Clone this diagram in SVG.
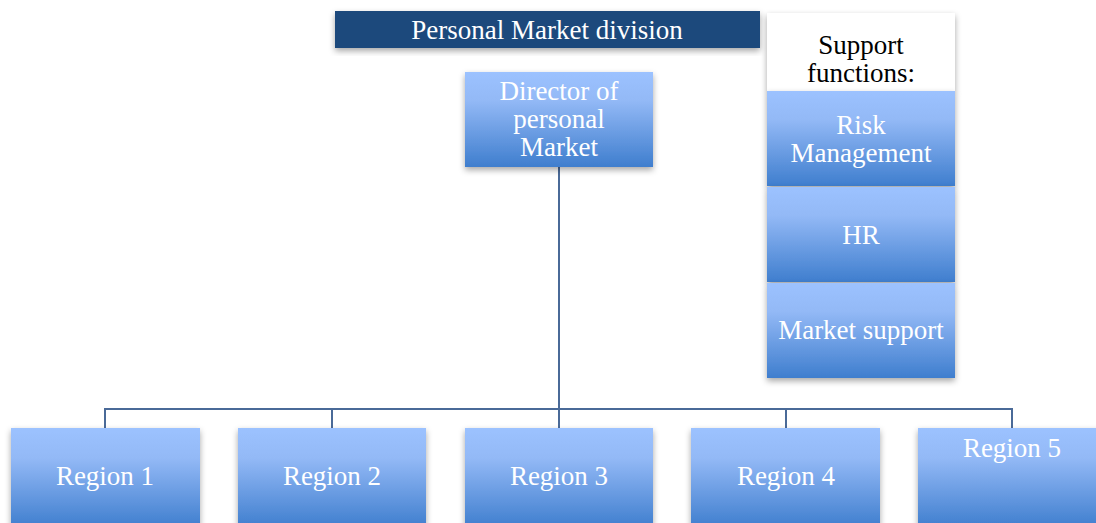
<svg xmlns="http://www.w3.org/2000/svg" width="1096" height="523" viewBox="0 0 1096 523">
<defs>
<linearGradient id="g" x1="0" y1="0" x2="0" y2="1">
<stop offset="0" stop-color="#9CC2FF"/>
<stop offset="0.3" stop-color="#93B9F6"/>
<stop offset="1" stop-color="#3F7ECE"/>
</linearGradient>
<filter id="sh" x="-10%" y="-10%" width="125%" height="130%">
<feDropShadow dx="0" dy="3" stdDeviation="3" flood-color="#000" flood-opacity="0.35"/>
</filter>
<style>
.box{fill:url(#g);filter:url(#sh)}
.t{font-family:"Liberation Serif",serif;font-size:27px;fill:#fff;text-anchor:middle}
.k{fill:#000}
.c{fill:none;stroke:#4A6A98;stroke-width:2}
</style>
</defs>
<rect width="1096" height="523" fill="#fff"/>
<g id="title">
<rect x="335" y="11" width="425" height="37" fill="#1F487C" filter="url(#sh)"/>
<text class="t" x="547" y="39">Personal Market division</text>
</g>
<g id="connectors">
<path class="c" d="M559 167V409M105 428V409H1012V428M332 409V428M559 409V428M786 409V428"/>
</g>
<g id="director">
<rect class="box" x="465" y="72" width="188" height="95"/>
<text class="t" x="559" y="100">Director of</text>
<text class="t" x="559" y="128">personal</text>
<text class="t" x="559" y="156">Market</text>
</g>
<g id="support">
<rect x="767" y="13" width="188" height="78" fill="#fff" filter="url(#sh)"/>
<text class="t k" x="861" y="54">Support</text>
<text class="t k" x="861" y="82">functions:</text>
</g>
<g id="risk">
<rect class="box" x="767" y="91" width="188" height="95"/>
<text class="t" x="861" y="134">Risk</text>
<text class="t" x="861" y="162">Management</text>
</g>
<g id="hr">
<rect class="box" x="767" y="187" width="188" height="95"/>
<text class="t" x="861" y="244">HR</text>
</g>
<g id="market">
<rect class="box" x="767" y="283" width="188" height="95"/>
<text class="t" x="861" y="339">Market support</text>
</g>
<g id="region1">
<rect class="box" x="11" y="428" width="189" height="100"/>
<text class="t" x="105" y="485">Region 1</text>
</g>
<g id="region2">
<rect class="box" x="238" y="428" width="188" height="100"/>
<text class="t" x="332" y="485">Region 2</text>
</g>
<g id="region3">
<rect class="box" x="465" y="428" width="188" height="100"/>
<text class="t" x="559" y="485">Region 3</text>
</g>
<g id="region4">
<rect class="box" x="691" y="428" width="189" height="100"/>
<text class="t" x="786" y="485">Region 4</text>
</g>
<g id="region5">
<rect class="box" x="918" y="428" width="190" height="100"/>
<text class="t" x="1012" y="457">Region 5</text>
</g>
</svg>
